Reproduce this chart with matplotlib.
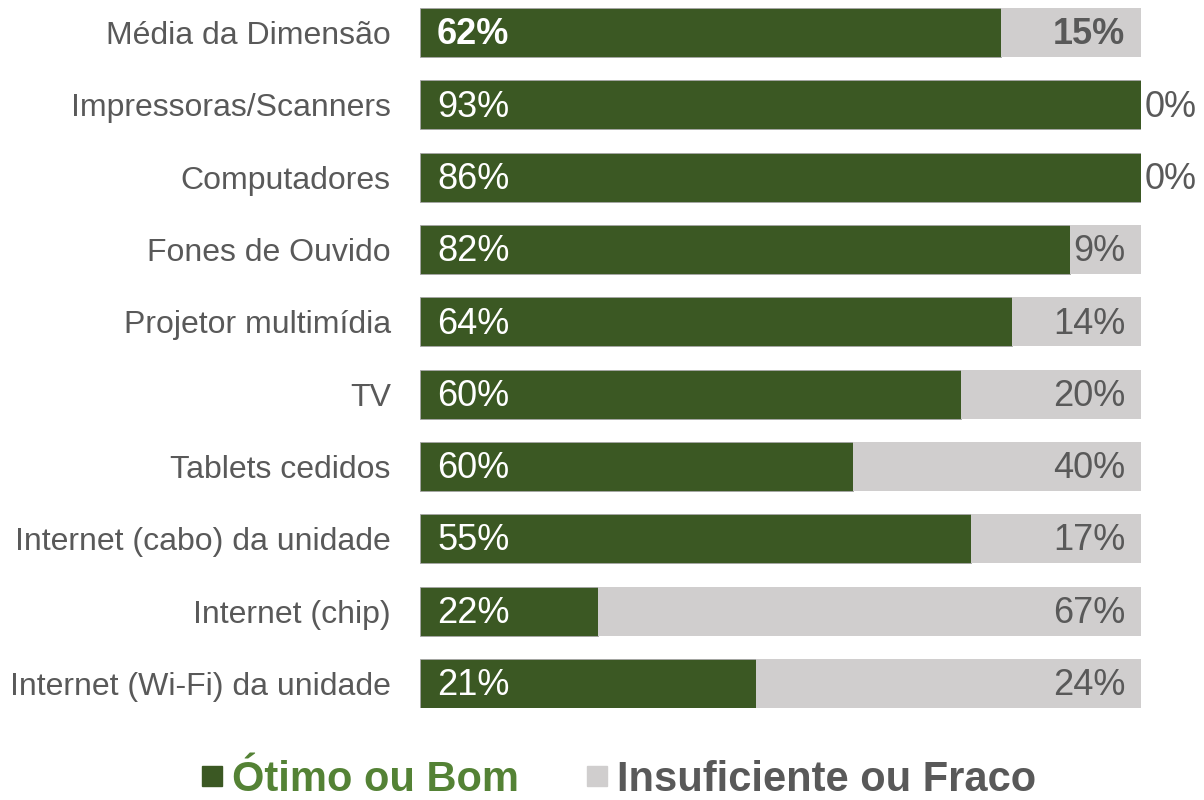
import numpy as np
import matplotlib.pyplot as plt
from matplotlib.lines import Line2D

# dados (de cima para baixo)
categorias = ["Média da Dimensão", "Impressoras/Scanners", "Computadores",
              "Fones de Ouvido", "Projetor multimídia", "TV", "Tablets cedidos",
              "Internet (cabo) da unidade", "Internet (chip)",
              "Internet (Wi-Fi) da unidade"]
otimo = [62, 93, 86, 82, 64, 60, 60, 55, 22, 21]
insuf = [15, 0, 0, 9, 14, 20, 40, 17, 67, 24]

verde = "#3b5823"
cinza = "#d0cece"
texto = "#595959"

plt.rcParams['font.family'] = ['Liberation Sans', 'DejaVu Sans']

fig = plt.figure(figsize=(12.04, 8.0), dpi=100)
ax = fig.add_axes([420/1204, 92/800, 721/1204, 700/800])

y = np.arange(len(categorias))
tot = np.array(otimo) + np.array(insuf)
frac_ot = np.array(otimo) / tot
frac_in = np.array(insuf) / tot

ax.barh(y, frac_ot, height=0.68, color=verde, edgecolor="#a6a6a6", linewidth=0.6)
ax.barh(y, frac_in, left=frac_ot, height=0.68, color=cinza, edgecolor="none")

for i in range(len(categorias)):
    peso = "bold" if i == 0 else "normal"
    ax.text(0.0236, y[i] + 0.03, f"{otimo[i]}%", color="white", fontsize=26,
            fontweight=peso, va="center", ha="left")
    if insuf[i] == 0:
        ax.text(1.0055, y[i] + 0.03, f"{insuf[i]}%", color=texto, fontsize=26,
                va="center", ha="left")
    else:
        ax.text(0.978, y[i] + 0.03, f"{insuf[i]}%", color=texto, fontsize=26,
                fontweight=peso, va="center", ha="right")

ax.set_xlim(0, 1)
ax.set_ylim(len(categorias) - 1 + 0.34, -0.34)
ax.set_yticks(y)
ax.set_yticklabels(categorias, fontsize=23, color=texto)
ax.tick_params(axis="y", length=0, pad=21)
ax.set_xticks([])
for s in ax.spines.values():
    s.set_visible(False)

handles = [Line2D([], [], marker="s", ls="none", color=verde, markersize=15),
           Line2D([], [], marker="s", ls="none", color=cinza, markersize=15)]
leg = fig.legend(handles, ["Ótimo ou Bom", "Insuficiente ou Fraco"],
                 loc="center", bbox_to_anchor=(0.514, 0.025), ncol=2,
                 frameon=False, handlelength=0.5, handletextpad=0.24,
                 columnspacing=1.6,
                 prop={"family": ["Liberation Sans Narrow", "Liberation Sans"],
                       "weight": "bold", "size": 30})
leg.get_texts()[0].set_color("#548235")
leg.get_texts()[1].set_color(texto)

fig.savefig("out.png", dpi=100)
